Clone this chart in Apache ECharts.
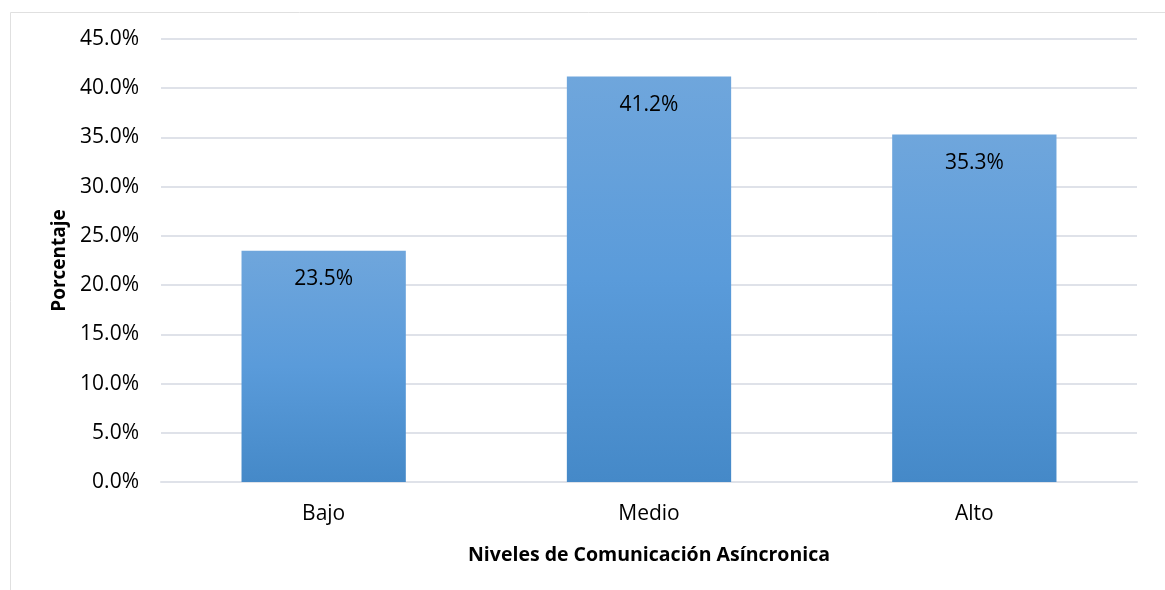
<!DOCTYPE html>
<html>
<head>
<meta charset="utf-8">
<script src="https://cdn.jsdelivr.net/npm/echarts@6/dist/echarts.min.js"></script>
<style>html,body{margin:0;padding:0;background:#fff}#c{width:1165px;height:590px}</style>
</head>
<body>
<div id="c"></div>
<script>
const categories = ['Bajo', 'Medio', 'Alto'];
const values = [23.5, 41.2, 35.3];
const yTicks = [0, 5, 10, 15, 20, 25, 30, 35, 40, 45];

const font = '"Open Sans", "Noto Sans", sans-serif';
const chart = echarts.init(document.getElementById('c'), null, {renderer: 'canvas'});
chart.setOption({
  animation: false,
  backgroundColor: '#fff',
  graphic: [{
    type: 'rect', left: 8, top: 10,
    shape: {width: 1200, height: 640},
    style: {fill: 'none', stroke: '#e0e0e0', lineWidth: 1},
    silent: true, z: -1
  }],
  grid: {left: 161, right: 28, top: 39, bottom: 108, containLabel: false},
  xAxis: {
    type: 'category',
    data: categories,
    axisTick: {show: false},
    axisLine: {show: true, lineStyle: {color: '#dfe2e9', width: 2}},
    axisLabel: {color: '#000', fontFamily: font, fontSize: 21, margin: 22},
    name: 'Niveles de Comunicación Asíncronica',
    nameLocation: 'middle',
    nameGap: 63,
    nameTextStyle: {color: '#000', fontFamily: font, fontSize: 19.5, fontWeight: 'bold'}
  },
  yAxis: {
    type: 'value',
    min: yTicks[0], max: yTicks[yTicks.length - 1], interval: 5,
    axisLine: {show: false},
    axisTick: {show: false},
    splitLine: {lineStyle: {color: '#dfe2e9', width: 2}},
    axisLabel: {color: '#000', fontFamily: font, fontSize: 21, margin: 22,
      formatter: v => v.toFixed(1) + '%'},
    name: 'Porcentaje',
    nameLocation: 'middle',
    nameGap: 91,
    nameTextStyle: {color: '#000', fontFamily: font, fontSize: 19, fontWeight: 'bold'}
  },
  series: [{
    type: 'bar',
    data: values,
    barWidth: '50.5%',
    itemStyle: {
      color: new echarts.graphic.LinearGradient(0, 0, 0, 1, [
        {offset: 0, color: '#6fa6dc'},
        {offset: 0.5, color: '#5a9bda'},
        {offset: 1, color: '#4589c8'}
      ])
    },
    label: {
      show: true, position: 'insideTop', distance: 18,
      color: '#000', fontFamily: font, fontSize: 21,
      formatter: p => p.value.toFixed(1) + '%'
    }
  }]
});
</script>
</body>
</html>
